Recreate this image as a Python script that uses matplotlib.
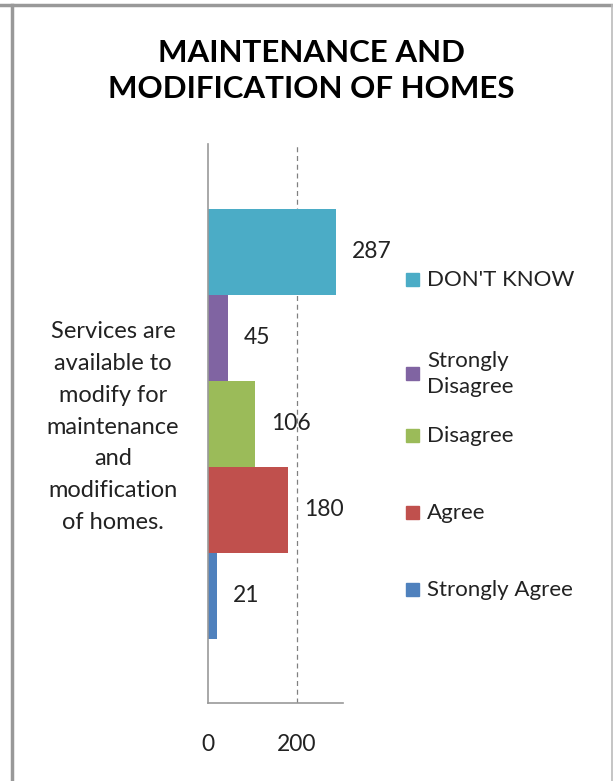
import matplotlib
matplotlib.use("Agg")
import matplotlib.pyplot as plt
from matplotlib.patches import Rectangle

plt.rcParams['font.family'] = ['Lato', 'DejaVu Sans']

# survey answers, bottom bar first
responses = ["Strongly Agree", "Agree", "Disagree", "Strongly Disagree", "DON'T KNOW"]
counts = [21, 180, 106, 45, 287]
colors = ["#4F81BD", "#C0504D", "#9BBB59", "#8064A2", "#4BACC6"]
legend_labels = ["Strongly Agree", "Agree", "Disagree", "Strongly\nDisagree", "DON'T KNOW"]
question = "Services are\navailable to\nmodify for\nmaintenance\nand\nmodification\nof homes."
title = "MAINTENANCE AND\nMODIFICATION OF HOMES"
x_ticks = [0, 200]

W, H = 613, 781
fig = plt.figure(figsize=(W / 100, H / 100), dpi=100)

# outer frame
frame = dict(transform=fig.transFigure, color="#999999", clip_on=False)
fig.add_artist(plt.Line2D([0, 1], [1 - 5 / H, 1 - 5 / H], lw=2.5, **frame))
fig.add_artist(plt.Line2D([12 / W, 12 / W], [0, 1 - 5 / H], lw=2.5, **frame))
fig.add_artist(plt.Line2D([612 / W, 612 / W], [0, 1 - 5 / H], lw=1.2, transform=fig.transFigure,
                          color="#BBBBBB", clip_on=False))

fig.text(311 / W, 1 - 71 / H, title, ha="center", va="center", fontsize=22.5,
         fontweight="bold", linespacing=1.38)

ax = fig.add_axes([208 / W, 1 - 703 / H, 135 / W, 559 / H])
ypos = list(range(len(counts)))
ax.barh(ypos, counts, height=1.0, color=colors, zorder=2)
ax.set_xlim(0, 303)
ax.set_ylim(-1.25, len(counts) + 0.25)

for v in x_ticks[1:]:
    ax.axvline(v, color="#808080", lw=0.9, ls=(0, (4, 3)), zorder=1)

for y, v in zip(ypos, counts):
    ax.annotate(str(v), (v, y), xytext=(16, 0), textcoords="offset pixels",
                ha="left", va="center", fontsize=16.5, color="#222222")

ax.set_xticks(x_ticks)
ax.tick_params(axis="x", length=0, pad=22, labelsize=16.5, labelcolor="#222222")
ax.set_yticks([])
for s in ["top", "right"]:
    ax.spines[s].set_visible(False)
for s in ["left", "bottom"]:
    ax.spines[s].set_color("#999999")
    ax.spines[s].set_linewidth(1.2)

fig.text(113 / W, 1 - 427 / H, question, ha="center", va="center", fontsize=17,
         linespacing=1.63, color="#222222")

# legend entries, placed beside each bar
legend_y = [590, 513, 436, 374, 280]
for lab, col, ly in zip(legend_labels, colors, legend_y):
    fig.add_artist(Rectangle((406 / W, 1 - (ly + 6) / H), 13 / W, 13 / H,
                             transform=fig.transFigure, color=col))
    fig.text(427 / W, 1 - ly / H, lab, ha="left", va="center", fontsize=16,
             linespacing=1.35, color="#222222")

fig.savefig("out.png", dpi=100, facecolor="white")
